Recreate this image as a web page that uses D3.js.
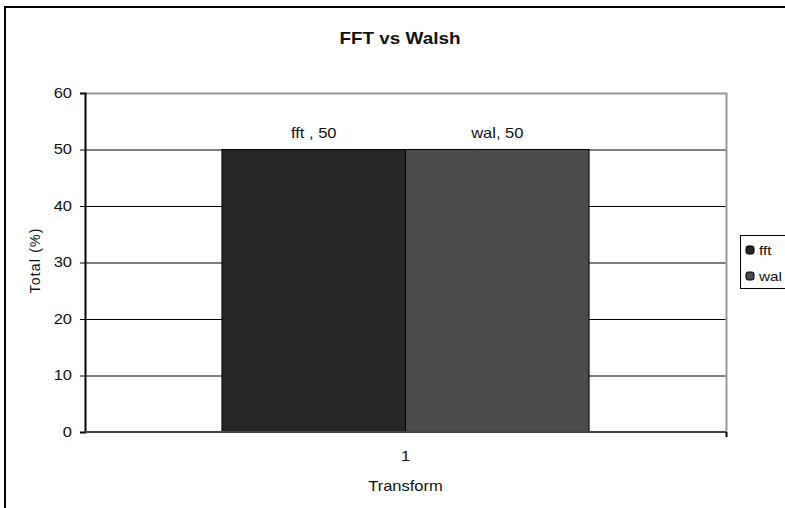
<!DOCTYPE html>
<html>
<head>
<meta charset="utf-8">
<script src="https://cdn.jsdelivr.net/npm/d3@7"></script>
<style>
  body { margin: 0; background: #fff; }
  text { font-family: "Liberation Sans", Arial, sans-serif; fill: #111; }
</style>
</head>
<body>
<div class="canvas"></div>
<script>
// data
const categories = ["1"];
const seriesNames = ["fft", "wal"];
const seriesLabels = ["fft , 50", "wal, 50"];
const seriesValues = [[50], [50]]; // one value per category per series
const seriesColors = ["#262626", "#4b4b4b"];
const yTicks = [0, 10, 20, 30, 40, 50, 60];

// margins and dimensions
const w = 785;
const h = 508;
const plot = { left: 85, top: 93, right: 726, bottom: 432 };
const sx = 1.18; // the reference text is a bit stretched sideways

const svg = d3.select(".canvas").append("svg").attr("width", w).attr("height", h);

// helper: text placed at (x, y) and stretched horizontally
function label(parent, x, y, str, size, anchor, bold) {
  const g = parent.append("g").attr("transform", `translate(${x}, ${y})`);
  g.append("text")
    .attr("transform", `scale(${sx}, 1)`)
    .attr("text-anchor", anchor || "middle")
    .attr("font-size", size)
    .attr("font-weight", bold ? "bold" : "normal")
    .text(str);
  return g;
}

// outer chart frame
svg.append("rect")
  .attr("x", 5).attr("y", 7)
  .attr("width", w + 20).attr("height", h + 20)
  .attr("fill", "none").attr("stroke", "#000").attr("stroke-width", 2);

const y = d3.scaleLinear().domain([0, 60]).range([plot.bottom, plot.top]);
const x0 = d3.scaleBand().domain(categories).range([plot.left, plot.right])
  .paddingInner(0).paddingOuter(0.373);
const x1 = d3.scaleBand().domain(seriesNames).range([0, x0.bandwidth()]).padding(0);

// gridlines (black); the top one is the plot border
svg.append("g")
  .selectAll("line")
  .data(yTicks.filter((t) => t > 0 && t < 60))
  .enter()
  .append("line")
  .attr("x1", plot.left).attr("x2", plot.right)
  .attr("y1", (d) => y(d) + 0.5).attr("y2", (d) => y(d) + 0.5)
  .attr("stroke", "#000").attr("stroke-width", 1);

// plot area border (gray top/right)
svg.append("path")
  .attr("d", `M${plot.left},${plot.top + 0.5}H${plot.right + 0.5}V${plot.bottom}`)
  .attr("fill", "none").attr("stroke", "#999").attr("stroke-width", 2);

// bars
const barData = [];
categories.forEach((c, ci) => {
  seriesNames.forEach((s, si) => {
    barData.push({ cat: c, name: s, label: seriesLabels[si], value: seriesValues[si][ci], color: seriesColors[si] });
  });
});

const bars = svg.append("g")
  .selectAll("g")
  .data(barData)
  .enter()
  .append("g")
  .attr("transform", (d) => `translate(${x0(d.cat) + x1(d.name)}, 0)`);

bars.append("rect")
  .attr("x", 0)
  .attr("y", (d) => y(d.value))
  .attr("width", x1.bandwidth())
  .attr("height", (d) => y(0) - y(d.value))
  .attr("fill", (d) => d.color)
  .attr("stroke", "#000")
  .attr("stroke-width", 1);

// data labels
bars.each(function (d) {
  label(d3.select(this), x1.bandwidth() / 2, y(d.value) - 12, d.label, 14);
});

// y axis
const yAxis = svg.append("g")
  .attr("transform", `translate(${plot.left}, 0)`)
  .call(d3.axisLeft(y).tickValues(yTicks).tickSize(5).tickPadding(8));
yAxis.select(".domain").attr("stroke", "#000").attr("stroke-width", 2);
yAxis.selectAll(".tick line").attr("stroke", "#000");
yAxis.selectAll(".tick text")
  .attr("font-size", 14)
  .attr("font-family", "Liberation Sans, Arial, sans-serif")
  .attr("fill", "#111")
  .attr("x", -13 / sx)
  .attr("transform", `scale(${sx}, 1)`);

// x axis
const xAxis = svg.append("g")
  .attr("transform", `translate(0, ${plot.bottom})`)
  .call(d3.axisBottom(x0).tickSize(0).tickPadding(19));
xAxis.select(".domain").attr("stroke", "#444").attr("stroke-width", 2)
  .attr("d", `M${plot.left},0H${plot.right}`);
xAxis.selectAll(".tick text")
  .attr("font-size", 14)
  .attr("font-family", "Liberation Sans, Arial, sans-serif")
  .attr("fill", "#111")
  .attr("transform", `scale(${sx}, 1)`);

// right end tick of x axis
svg.append("line")
  .attr("x1", plot.right + 0.5).attr("x2", plot.right + 0.5)
  .attr("y1", plot.bottom).attr("y2", plot.bottom + 5)
  .attr("stroke", "#000").attr("stroke-width", 2);

// title
label(svg, 400, 44, "FFT vs Walsh", 16, "middle", true);

// axis titles
label(svg, (plot.left + plot.right) / 2, 491, "Transform", 14);

svg.append("text")
  .attr("transform", `translate(40, ${(plot.top + plot.bottom) / 2 - 2}) rotate(-90)`)
  .attr("text-anchor", "middle").attr("font-size", 14)
  .attr("letter-spacing", 1.2)
  .text("Total (%)");

// legend
const legend = svg.append("g").attr("transform", "translate(740, 235)");
legend.append("rect")
  .attr("x", 0.5).attr("y", 0.5)
  .attr("width", 60).attr("height", 53)
  .attr("fill", "#fff").attr("stroke", "#000").attr("stroke-width", 1);

const items = legend.selectAll("g.item")
  .data(seriesNames)
  .enter()
  .append("g")
  .attr("class", "item")
  .attr("transform", (d, i) => `translate(6, ${11 + i * 26})`);

items.append("rect")
  .attr("width", 8).attr("height", 8)
  .attr("rx", 2)
  .attr("fill", (d, i) => seriesColors[i])
  .attr("stroke", "#000").attr("stroke-width", 1);

items.each(function (d) {
  label(d3.select(this), 13, 9, d, 13, "start");
});
</script>
</body>
</html>
